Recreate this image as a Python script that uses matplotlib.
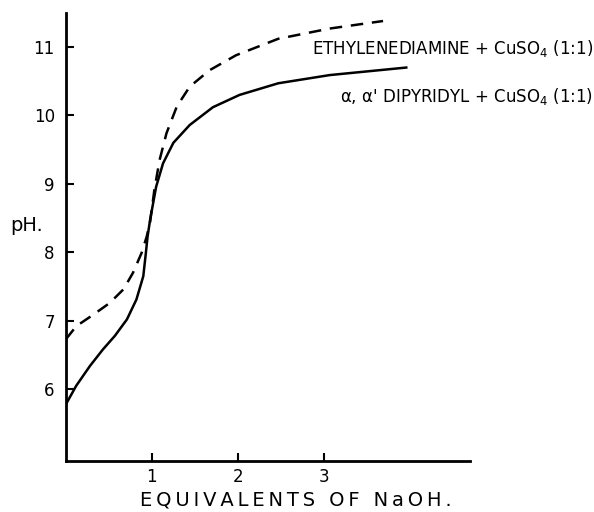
import matplotlib.pyplot as plt

# ethylenediamine + CuSO4 (dashed)
en_x = [0.0, 0.12, 0.32, 0.51, 0.67, 0.78, 0.88, 0.94, 0.98, 1.03, 1.09, 1.17, 1.29, 1.44,
        1.67, 1.98, 2.47, 3.07, 3.69]
en_ph = [6.73, 6.92, 7.09, 7.26, 7.46, 7.70, 7.99, 8.23, 8.45, 8.92, 9.35, 9.74, 10.13, 10.42,
         10.66, 10.88, 11.12, 11.27, 11.38]

# alpha,alpha' dipyridyl + CuSO4 (solid)
dp_x = [0.0, 0.12, 0.28, 0.43, 0.57, 0.71, 0.82, 0.90, 0.93, 0.95, 0.98, 1.05, 1.13, 1.25,
        1.44, 1.71, 2.02, 2.47, 3.07, 3.96]
dp_ph = [5.78, 6.05, 6.34, 6.58, 6.78, 7.02, 7.31, 7.65, 7.99, 8.23, 8.48, 8.96, 9.30, 9.60,
         9.86, 10.12, 10.30, 10.47, 10.59, 10.70]

x_ticks = [1, 2, 3]
y_ticks = [6, 7, 8, 9, 10, 11]

plt.rcParams.update({'font.size': 13, 'font.family': 'DejaVu Sans'})
fig = plt.figure(figsize=(5.94, 5.12), dpi=100)
ax = fig.add_axes([0.111, 0.0996, 0.68, 0.8754])

ax.plot(en_x, en_ph, color='black', linestyle=(0, (5, 3.5)), linewidth=1.8)
ax.plot(dp_x, dp_ph, color='black', linewidth=1.8)

ax.set_xlim(0, 4.7)
ax.set_ylim(4.95, 11.5)
ax.set_xticks(x_ticks)
ax.set_yticks(y_ticks)
ax.tick_params(direction='in', length=6, width=1.5, labelsize=12)
ax.tick_params(axis='x', pad=5)
ax.tick_params(axis='y', pad=8)
for s in ['top', 'right']:
    ax.spines[s].set_visible(False)
for s in ['left', 'bottom']:
    ax.spines[s].set_linewidth(2)

# axis titles placed like the original (x title sits right of axes centre)
xlabel = '\u2009'.join('EQUIVALENTS OF NaOH.')
fig.text(0.498, 0.024, xlabel, fontsize=14, ha='center', va='center')
fig.text(0.017, 0.56, 'pH.', fontsize=14, ha='left', va='center')

fig.text(0.998, 0.906, 'ETHYLENEDIAMINE + CuSO$_4$ (1:1)', fontsize=12, ha='right', va='center')
fig.text(0.998, 0.811, "α, α' DIPYRIDYL + CuSO$_4$ (1:1)", fontsize=12, ha='right', va='center')

plt.savefig('out.png', dpi=100)
